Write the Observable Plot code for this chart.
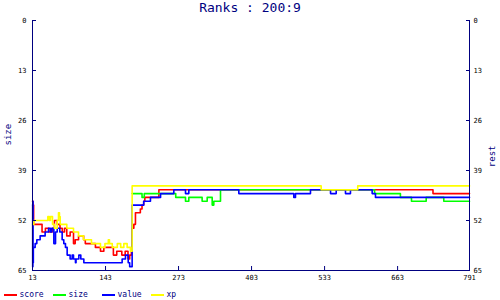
<!DOCTYPE html>
<html><head><meta charset="utf-8">
<script src="https://cdn.jsdelivr.net/npm/d3@7"></script>
<script src="https://cdn.jsdelivr.net/npm/@observablehq/plot@0.6"></script>
<style>
body{margin:0;background:#fff;width:500px;height:300px;overflow:hidden;font-family:"DejaVu Sans Mono",monospace;}
#title{height:16px;line-height:16px;text-align:center;color:#000080;font-size:13px;white-space:pre;}
#chart svg{display:block;}
#legend{height:12px;display:flex;padding-left:4px;}
.item{width:49px;display:flex;align-items:center;height:13px;}
.sw{width:12.5px;height:2px;margin-right:3px;margin-top:0px;}
.lab{font-size:8px;color:#000080;line-height:13px;}
</style></head><body>
<div id="title">Ranks : 200:9</div>
<div id="chart"></div>
<div id="legend"></div>
<script>
const navy = "#000080";
const seriesNames = ["score", "size", "value", "xp"];
const seriesColors = ["#ff0000", "#00ff00", "#0000ff", "#ffff00"];
const xTicks = [13, 143, 273, 403, 533, 663, 791];
const yTicks = [0, 13, 26, 39, 52, 65];

const scoreX = [13,14,15,30,36,42,48,52,57,62,66,70,74,80,86,89,95,104,107,119,125,134,140,150,157,163,172,178,183,186,189,190.4,193.4,196.3,205,208,211,213,238,726,791];
const scoreY = [47,48,53,55,54,55,54,52,53,54,55,54,56,55,58,57,56,57,58,58,59,60,59,59,61,60,61,60,62,61,60,54,53,50,49,48,47,46,44,45,45];

const sizeX = [190.4,208,212,268,285.4,291.3,315,324,332.9,335.8,347.7,622,668,687.7,713.9,745.2,791];
const sizeY = [45,46,45,46,47,46,47,46,48,47,44,45,46,47,46,47,47];

const valueX = [13,13.3,13.7,14,14.5,17.7,20.7,26.6,35.5,41.5,45,47.5,51,54,57,61.6,65.8,68.7,71.7,74.7,80,83.6,86,89.5,90.5,95.5,99,104.4,172.6,178.5,183.4,186,190.4,211,223,241,264.6,285.4,291.3,380.3,478.2,481.2,507.9,543.6,553.7,570.2,579.1,617.7,623.6,791];
const valueY = [48,64,47,63,59,58,57,56,55,54,55,54,58,55,54,55,57,58,59,61,62,61,62,63,62,61,62,63,62,61,63,64,48,47,46,45,44,45,44,45,46,45,44,45,44,45,44,45,46,46];

const xpX = [13,15.5,40.3,43,45,48.6,52,57,59.3,61,62.3,74.1,86,94.9,103.8,118,134,142,148,150,155,164,170,175.6,181.5,187.4,190.4,526.9,592,791];
const xpY = [53,52,51,52,51,53,54,52,50,51,53,54,55,56,57,58,59,58,57,58,59,58,59,58,59,60,43,44,43,43];

const seriesXs = [scoreX, sizeX, valueX, xpX];
const seriesYs = [scoreY, sizeY, valueY, xpY];
const rows = seriesNames.flatMap((name, i) => seriesXs[i].map((x, j) => ({series: name, x, y: seriesYs[i][j]})));

const chart = Plot.plot({
  width: 500, height: 272,
  marginTop: 4, marginBottom: 18, marginLeft: 32, marginRight: 31,
  x: {domain: [13, 791]},
  y: {domain: [0, 65], reverse: true},
  color: {domain: seriesNames, range: seriesColors},
  style: {fontFamily: "DejaVu Sans Mono, monospace", fontSize: "7px", color: "black", background: "white"},
  marks: [
    Plot.line(rows, {x: "x", y: "y", z: "series", stroke: "series", strokeWidth: 1.6, curve: "step-after"}),
    Plot.ruleX([13, 791], {stroke: navy, strokeWidth: 1}),
    Plot.ruleY([65], {stroke: navy, strokeWidth: 1}),
    Plot.axisY({anchor: "left", ticks: yTicks, tickSize: -4, tickPadding: 10, label: null, stroke: navy, fill: "black", tickFormat: d => d}),
    Plot.axisY({anchor: "right", ticks: yTicks, tickSize: -4, tickPadding: 8, label: null, stroke: navy, fill: "black", tickFormat: d => d}),
    Plot.axisX({anchor: "bottom", ticks: xTicks, tickSize: -4, tickPadding: 9, label: null, stroke: navy, fill: "black", tickFormat: d => d}),
    Plot.text(["size"], {text: d => d, frameAnchor: "left", rotate: -90, dx: -24, fill: navy, fontSize: 9, fontFamily: "DejaVu Sans Mono"}),
    Plot.text(["rest"], {text: d => d, frameAnchor: "right", rotate: -90, dx: 22.5, fill: navy, fontSize: 9, fontFamily: "DejaVu Sans Mono"})
  ]
});
document.getElementById("chart").appendChild(chart);

const legend = document.getElementById("legend");
seriesNames.forEach((name, i) => {
  const item = document.createElement("div");
  item.className = "item";
  const sw = document.createElement("div");
  sw.className = "sw";
  sw.style.background = seriesColors[i];
  const lab = document.createElement("span");
  lab.className = "lab";
  lab.textContent = name;
  item.appendChild(sw);
  item.appendChild(lab);
  legend.appendChild(item);
});
</script>
</body></html>
